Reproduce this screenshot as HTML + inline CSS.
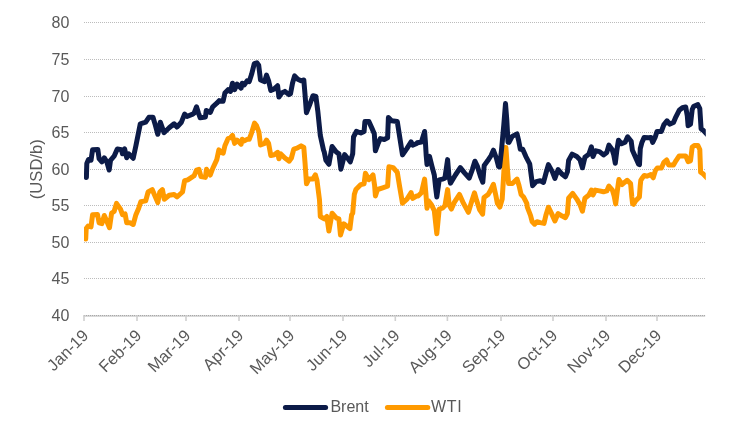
<!DOCTYPE html>
<html><head><meta charset="utf-8"><title>Brent vs WTI</title>
<style>
html,body{margin:0;padding:0;background:#fff;}
body{width:740px;height:435px;overflow:hidden;font-family:"Liberation Sans",sans-serif;}
svg{display:block;will-change:transform;}
text{font-kerning:none;font-family:"Liberation Sans",sans-serif;font-size:16px;fill:#595959;}
</style></head><body>
<svg width="740" height="435" viewBox="0 0 740 435">
<rect width="740" height="435" fill="#fff"/>
<defs><clipPath id="plot"><rect x="84" y="0" width="621.8" height="330"/></clipPath></defs>
<rect x="83.2" y="315" width="622.0" height="2" fill="#d9d9d9"/>
<line x1="84" y1="22.5" x2="705.2" y2="22.5" stroke="#bcbcbc" stroke-width="1" stroke-dasharray="1 1"/>
<line x1="84" y1="59.5" x2="705.2" y2="59.5" stroke="#bcbcbc" stroke-width="1" stroke-dasharray="1 1"/>
<line x1="84" y1="96.5" x2="705.2" y2="96.5" stroke="#bcbcbc" stroke-width="1" stroke-dasharray="1 1"/>
<line x1="84" y1="132.5" x2="705.2" y2="132.5" stroke="#bcbcbc" stroke-width="1" stroke-dasharray="1 1"/>
<line x1="84" y1="169.5" x2="705.2" y2="169.5" stroke="#bcbcbc" stroke-width="1" stroke-dasharray="1 1"/>
<line x1="84" y1="205.5" x2="705.2" y2="205.5" stroke="#bcbcbc" stroke-width="1" stroke-dasharray="1 1"/>
<line x1="84" y1="242.5" x2="705.2" y2="242.5" stroke="#bcbcbc" stroke-width="1" stroke-dasharray="1 1"/>
<line x1="84" y1="278.5" x2="705.2" y2="278.5" stroke="#bcbcbc" stroke-width="1" stroke-dasharray="1 1"/>
<line x1="84" y1="315.5" x2="705.2" y2="315.5" stroke="#a9a9a9" stroke-width="1" stroke-dasharray="1 1"/>
<line x1="84" y1="315.2" x2="84" y2="321" stroke="#d0d0d0" stroke-width="1.6"/>
<line x1="137" y1="315.2" x2="137" y2="321" stroke="#d0d0d0" stroke-width="1.6"/>
<line x1="186" y1="315.2" x2="186" y2="321" stroke="#d0d0d0" stroke-width="1.6"/>
<line x1="239" y1="315.2" x2="239" y2="321" stroke="#d0d0d0" stroke-width="1.6"/>
<line x1="290" y1="315.2" x2="290" y2="321" stroke="#d0d0d0" stroke-width="1.6"/>
<line x1="343" y1="315.2" x2="343" y2="321" stroke="#d0d0d0" stroke-width="1.6"/>
<line x1="395.3" y1="315.2" x2="395.3" y2="321" stroke="#d0d0d0" stroke-width="1.6"/>
<line x1="447.4" y1="315.2" x2="447.4" y2="321" stroke="#d0d0d0" stroke-width="1.6"/>
<line x1="501" y1="315.2" x2="501" y2="321" stroke="#d0d0d0" stroke-width="1.6"/>
<line x1="553" y1="315.2" x2="553" y2="321" stroke="#d0d0d0" stroke-width="1.6"/>
<line x1="606" y1="315.2" x2="606" y2="321" stroke="#d0d0d0" stroke-width="1.6"/>
<line x1="657" y1="315.2" x2="657" y2="321" stroke="#d0d0d0" stroke-width="1.6"/>
<text x="69.3" y="321.2" text-anchor="end">40</text>
<text x="69.3" y="284.2" text-anchor="end">45</text>
<text x="69.3" y="248.2" text-anchor="end">50</text>
<text x="69.3" y="211.2" text-anchor="end">55</text>
<text x="69.3" y="175.2" text-anchor="end">60</text>
<text x="69.3" y="138.2" text-anchor="end">65</text>
<text x="69.3" y="102.2" text-anchor="end">70</text>
<text x="69.3" y="65.2" text-anchor="end">75</text>
<text x="69.3" y="28.2" text-anchor="end">80</text>
<text transform="translate(42.2,169.2) rotate(-90)" text-anchor="middle" style="font-size:16.6px">(USD/b)</text>
<text transform="translate(89.5,336.4) rotate(-45)" text-anchor="end" style="font-size:16.5px">Jan-19</text>
<text transform="translate(142.5,336.4) rotate(-45)" text-anchor="end" style="font-size:16.5px">Feb-19</text>
<text transform="translate(191.5,336.4) rotate(-45)" text-anchor="end" style="font-size:16.5px">Mar-19</text>
<text transform="translate(244.5,336.4) rotate(-45)" text-anchor="end" style="font-size:16.5px">Apr-19</text>
<text transform="translate(295.5,336.4) rotate(-45)" text-anchor="end" style="font-size:16.5px">May-19</text>
<text transform="translate(348.5,336.4) rotate(-45)" text-anchor="end" style="font-size:16.5px">Jun-19</text>
<text transform="translate(400.8,336.4) rotate(-45)" text-anchor="end" style="font-size:16.5px">Jul-19</text>
<text transform="translate(452.9,336.4) rotate(-45)" text-anchor="end" style="font-size:16.5px">Aug-19</text>
<text transform="translate(506.5,336.4) rotate(-45)" text-anchor="end" style="font-size:16.5px">Sep-19</text>
<text transform="translate(558.5,336.4) rotate(-45)" text-anchor="end" style="font-size:16.5px">Oct-19</text>
<text transform="translate(611.5,336.4) rotate(-45)" text-anchor="end" style="font-size:16.5px">Nov-19</text>
<text transform="translate(662.5,336.4) rotate(-45)" text-anchor="end" style="font-size:16.5px">Dec-19</text>
<path d="M85.7,239.1 L86.2,228.5 L88.1,226.1 L91.0,226.9 L92.6,214.7 L97.5,214.4 L99.1,222.8 L101.9,223.6 L104.3,215.5 L106.8,221.2 L109.5,227.7 L111.6,213.1 L114.1,211.5 L116.5,203.4 L120.5,209.1 L122.5,214.7 L125.1,213.9 L126.7,222.8 L130.3,222.8 L133.2,224.5 L135.9,214.7 L138.7,208.2 L140.8,201.8 L145.7,200.9 L148.1,192.0 L152.2,189.6 L155.4,196.9 L157.8,202.6 L159.8,192.0 L162.4,189.6 L164.3,199.3 L169.2,195.3 L174.1,194.5 L177.0,196.9 L179.7,194.5 L182.5,192.0 L184.6,180.7 L187.8,179.9 L192.7,176.6 L194.1,175.8 L196.5,170.1 L198.9,169.3 L201.0,176.6 L205.4,177.4 L206.5,169.3 L210.3,175.0 L212.7,168.5 L216.8,159.6 L218.9,149.9 L221.1,152.3 L223.2,153.1 L224.9,145.8 L228.1,138.5 L230.5,137.7 L232.5,135.3 L234.6,143.4 L237.0,140.1 L241.1,144.2 L242.2,139.3 L244.3,140.9 L247.1,139.3 L249.2,139.3 L251.6,132.8 L254.5,123.1 L256.5,125.5 L258.9,132.0 L260.5,145.0 L264.6,143.4 L266.5,140.1 L268.6,143.4 L270.8,155.5 L274.3,154.7 L277.6,152.3 L278.9,158.8 L280.8,153.9 L284.9,158.0 L289.2,161.2 L291.4,158.0 L293.8,149.1 L297.0,148.2 L301.1,145.8 L303.8,147.4 L305.1,163.6 L306.5,183.8 L308.9,178.9 L313.0,178.9 L315.4,174.9 L317.0,180.5 L319.5,200.0 L320.3,216.5 L324.3,218.9 L326.8,216.5 L328.9,231.1 L332.1,213.2 L336.5,218.1 L338.9,218.9 L340.5,235.1 L343.8,223.8 L347.0,226.2 L349.9,228.6 L351.6,214.9 L352.7,213.2 L354.3,194.6 L355.9,189.5 L360.8,184.6 L364.1,183.8 L365.4,173.2 L368.9,179.7 L373.0,174.9 L374.6,185.4 L375.4,195.9 L377.5,189.5 L382.7,187.8 L387.6,186.2 L388.9,166.8 L393.2,167.6 L397.3,172.4 L399.7,187.0 L402.5,203.2 L407.0,199.2 L411.1,192.7 L412.7,198.4 L416.8,195.9 L418.1,196.1 L421.4,192.8 L424.6,179.1 L425.9,193.6 L427.0,208.2 L428.6,200.9 L431.1,204.2 L434.3,210.7 L436.8,233.8 L439.2,209.1 L442.4,208.2 L444.9,205.8 L447.6,189.6 L449.2,205.0 L451.4,209.1 L454.6,201.8 L459.5,194.5 L463.5,203.4 L468.4,212.3 L471.6,201.8 L474.5,192.8 L476.5,200.1 L479.7,209.9 L482.6,214.2 L484.0,197.5 L488.1,194.5 L490.3,190.9 L493.4,184.3 L495.8,195.3 L497.4,203.4 L499.9,207.0 L502.2,199.0 L503.5,178.0 L505.2,147.5 L505.9,147.5 L507.5,170.0 L508.6,183.6 L512.4,183.5 L517.0,179.1 L519.0,185.5 L521.1,194.5 L523.5,196.9 L526.8,203.4 L527.3,207.2 L530.5,215.3 L532.2,221.8 L534.6,224.2 L537.0,221.8 L540.3,222.6 L544.0,223.4 L545.9,215.3 L548.4,207.2 L551.6,213.6 L554.9,220.9 L558.1,213.6 L562.2,216.1 L565.4,217.7 L567.4,213.6 L568.6,198.2 L572.7,193.4 L576.8,199.1 L580.0,204.7 L582.4,211.2 L584.9,198.2 L588.9,195.0 L591.4,190.1 L593.0,195.0 L595.4,190.1 L599.5,190.9 L603.5,191.8 L606.8,190.9 L608.9,186.1 L612.4,190.1 L614.1,195.8 L615.7,203.9 L617.3,190.9 L618.9,179.6 L622.2,184.5 L624.8,182.2 L627.2,180.3 L630.6,183.6 L631.8,197.0 L632.6,203.8 L633.6,204.3 L635.7,200.8 L639.4,197.0 L640.2,186.0 L640.8,180.3 L642.5,177.6 L644.3,175.5 L646.8,176.2 L650.8,174.6 L653.2,177.8 L655.4,170.5 L657.3,168.1 L661.4,168.1 L663.8,162.4 L666.7,160.0 L668.6,164.9 L673.5,164.9 L675.9,160.8 L679.2,155.9 L682.4,155.9 L685.7,155.9 L688.1,161.6 L690.5,160.8 L692.2,147.0 L694.6,145.4 L697.8,145.4 L699.8,149.5 L700.6,172.2 L702.8,173.6 L707.0,177.9" fill="none" stroke="#ff9a00" stroke-width="5.0" stroke-linejoin="round" stroke-linecap="round" clip-path="url(#plot)"/>
<path d="M86.4,177.5 L86.8,163.5 L88.5,159.5 L91.0,160.3 L92.6,149.7 L97.8,149.4 L99.1,158.6 L101.9,161.9 L104.3,157.8 L106.8,161.9 L109.2,170.0 L110.5,160.3 L114.1,156.2 L117.3,148.9 L121.4,149.7 L122.5,153.8 L124.6,148.9 L126.7,157.8 L128.6,153.8 L133.2,158.3 L135.9,145.7 L140.3,123.8 L145.7,122.2 L148.9,117.3 L153.0,117.3 L155.4,125.4 L157.8,134.3 L160.3,122.2 L164.0,132.7 L169.2,127.8 L174.1,123.8 L177.0,127.0 L181.4,122.2 L184.6,114.1 L187.0,116.5 L192.7,114.1 L194.1,113.2 L196.5,106.8 L198.4,112.8 L200.2,117.8 L205.4,117.0 L206.3,110.4 L210.3,112.4 L212.7,106.8 L216.8,103.2 L219.2,100.6 L223.1,101.2 L224.9,93.0 L228.1,89.7 L230.5,91.4 L232.5,83.2 L234.6,89.7 L237.0,84.1 L241.1,88.1 L242.2,83.2 L244.3,84.9 L247.1,80.8 L249.2,81.6 L251.6,74.3 L254.3,63.6 L256.9,62.8 L258.7,65.2 L260.5,80.0 L264.6,81.6 L266.5,75.1 L268.6,80.8 L270.8,90.5 L274.3,88.9 L277.6,85.7 L278.9,97.0 L281.6,93.0 L284.9,91.4 L288.9,94.6 L290.5,93.8 L292.5,83.2 L294.6,75.9 L297.8,79.2 L301.1,80.8 L303.8,80.0 L305.1,95.4 L306.4,112.4 L306.5,112.7 L309.7,104.6 L313.0,95.7 L315.9,96.5 L317.8,111.1 L320.3,135.4 L323.5,150.0 L324.3,152.2 L325.9,160.3 L328.9,164.3 L332.1,146.5 L336.5,152.2 L338.9,153.8 L340.9,169.2 L344.6,154.6 L348.6,159.5 L350.3,161.9 L352.7,153.8 L353.5,137.0 L356.4,131.4 L360.8,133.0 L364.1,131.4 L364.9,121.6 L368.9,121.6 L372.2,128.9 L374.3,133.8 L375.4,150.8 L377.8,144.3 L380.3,138.6 L384.3,139.5 L387.6,137.8 L388.4,117.6 L391.6,120.8 L397.3,121.6 L399.7,137.0 L402.5,154.9 L407.0,148.4 L411.1,141.9 L412.7,145.1 L416.8,143.5 L417.3,142.8 L421.4,142.0 L424.6,131.5 L425.4,142.0 L426.2,155.5 L427.0,164.5 L429.5,156.4 L431.9,166.1 L434.3,175.0 L435.6,187.2 L436.8,196.9 L439.2,179.9 L442.4,179.1 L444.9,178.2 L447.6,159.6 L448.9,175.8 L450.5,183.1 L455.4,175.0 L460.3,167.7 L464.3,172.6 L469.2,178.2 L472.4,169.3 L474.9,161.2 L477.3,166.1 L480.5,176.6 L482.8,182.2 L484.2,165.4 L487.8,160.6 L491.1,155.5 L493.4,150.2 L496.5,158.5 L498.6,166.5 L499.6,167.0 L501.5,150.0 L503.8,125.0 L505.5,103.6 L506.8,120.0 L508.0,142.2 L509.0,142.4 L512.2,136.4 L517.0,133.9 L518.6,140.4 L520.3,149.3 L522.7,149.3 L525.9,156.6 L529.7,163.8 L531.4,176.8 L532.6,185.7 L536.2,181.6 L540.3,180.8 L543.5,182.4 L545.9,173.5 L548.4,164.6 L552.4,171.9 L554.9,178.4 L558.1,169.5 L562.2,174.3 L565.4,176.8 L567.4,171.9 L568.6,160.5 L572.2,154.1 L576.8,156.5 L580.0,159.7 L582.4,167.8 L584.9,157.3 L588.9,154.1 L591.4,146.8 L593.0,156.5 L595.4,150.8 L599.5,151.6 L603.5,154.9 L606.8,152.4 L608.9,145.1 L612.2,149.8 L613.8,155.0 L615.3,163.2 L616.9,150.0 L618.5,140.2 L621.5,143.8 L625.1,142.2 L627.6,136.8 L631.2,141.3 L632.4,150.3 L635.7,157.6 L638.5,164.0 L639.5,164.6 L640.3,148.5 L642.0,142.2 L644.2,137.4 L648.7,137.8 L651.1,137.4 L652.7,142.4 L655.1,137.5 L657.0,131.5 L661.4,131.4 L663.8,124.9 L667.0,120.8 L669.5,124.1 L673.5,122.4 L675.9,116.8 L679.2,110.3 L682.4,107.8 L685.7,107.0 L687.3,115.9 L688.1,125.7 L690.5,124.1 L692.2,109.5 L693.8,106.2 L697.8,104.6 L699.8,108.6 L701.1,128.9 L703.3,130.3 L707.0,134.4" fill="none" stroke="#0c1b48" stroke-width="5.0" stroke-linejoin="round" stroke-linecap="round" clip-path="url(#plot)"/>
<line x1="285.4" y1="407.4" x2="325.6" y2="407.4" stroke="#0c1b48" stroke-width="5" stroke-linecap="round"/>
<text x="330.4" y="411.6">Brent</text>
<line x1="387.4" y1="407.4" x2="427.8" y2="407.4" stroke="#ff9a00" stroke-width="5" stroke-linecap="round"/>
<text x="431.0" y="411.6" style="letter-spacing:0.7px">WTI</text>
</svg></body></html>
